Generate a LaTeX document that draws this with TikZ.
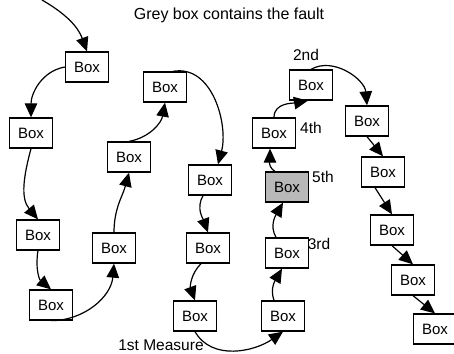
\documentclass[tikz,border=0pt]{standalone}
\usepackage{fontspec}
\setmainfont{Liberation Sans}
\usetikzlibrary{arrows.meta}
\tikzset{>={Triangle[length=14pt,width=12.5pt]}}
\tikzset{
  boxnode/.style={draw,line width=1.3pt,minimum width=43pt,minimum height=30pt,inner sep=0pt,font=\fontsize{15}{18}\selectfont},
  faultbox/.style={boxnode,fill=black!28},
  lbl/.style={inner sep=0pt,font=\fontsize{15.5}{18}\selectfont},
  flow/.style={->,line width=1.2pt}
}

\begin{document}
\begin{tikzpicture}[x=1pt,y=1pt]
        \useasboundingbox (0,0) rectangle (454,353);
        \node[lbl,font=\fontsize{16}{18}\selectfont] (title) at (229,338) {Grey box contains the fault};
        % first sweep, down and up
        \node[boxnode] (b1) at (87,286) {Box};
        \node[boxnode] (b2) at (31,220) {Box};
        \node[boxnode] (b3) at (38,118) {Box};
        \node[boxnode] (b4) at (51,48) {Box};
        \node[boxnode] (b5) at (114,105) {Box};
        \node[boxnode] (b6) at (129,196) {Box};
        \node[boxnode] (b7) at (165,266) {Box};
        \node[boxnode] (b8) at (210,173) {Box};
        \node[boxnode] (b9) at (208,105) {Box};
        \node[boxnode] (b10) at (195,37) {Box};
        % the measured part
        \node[boxnode] (b11) at (283,37) {Box};
        \node[boxnode] (b12) at (287,100) {Box};
        \node[faultbox] (b13) at (287,166) {Box};
        \node[boxnode] (b14) at (274,220) {Box};
        \node[boxnode] (b15) at (311,268) {Box};
        % last run down to the right
        \node[boxnode] (b16) at (367,232) {Box};
        \node[boxnode] (b17) at (383,181) {Box};
        \node[boxnode] (b18) at (392,123) {Box};
        \node[boxnode] (b19) at (413,73) {Box};
        \node[boxnode] (b20) at (435,24) {Box};
        \node[lbl,anchor=base] (first) at (161,3) {1st Measure};
        \node[lbl] (second) at (306,298) {2nd};
        \node[lbl] (third) at (319,109) {3rd};
        \node[lbl] (fourth) at (311,225) {4th};
        \node[lbl] (fifth) at (323,176) {5th};
        \coordinate (start) at (42,353);
        \draw[flow] (start) to[out=-30,in=110] (b1.north);
        \draw[flow] (b1.west) to[out=190,in=90] (b2.north);
        \draw[flow] (b2.south) to[out=-105,in=130] (b3.north);
        \draw[flow] (b3.south) to[out=-100,in=140] (b4.north);
        \draw[flow] (b4.south) to[out=0,in=-95] (b5.south);
        \draw[flow] (b5.north) to[out=90,in=-105] (b6.south);
        \draw[flow] (b6.north) to[out=10,in=-100] (b7.south);
        \draw[flow] ([xshift=8pt]b7.north) to[out=10,in=75] ([xshift=8pt]b8.north);
        \draw[flow] ([xshift=-7pt]b8.south) to[out=-120,in=110] (b9.north);
        \draw[flow] ([xshift=-7pt]b9.south) to[out=-135,in=110] (b10.north);
        \draw[flow] (b10.south) to[out=-60,in=-145] (b11.south);
        \draw[flow] ([xshift=-9pt]b11.north) to[out=110,in=-120] ([xshift=-5pt]b12.south);
        \draw[flow] ([xshift=-11pt]b12.north) to[out=120,in=-120] ([xshift=-4pt]b13.south);
        \draw[flow] ([xshift=-12pt]b13.north) to[out=150,in=-90] ([xshift=-4pt]b14.south);
        \draw[flow] (b14.north) to[out=90,in=190] ([xshift=-3pt]b15.south);
        \draw[flow] (b15.north) to[out=30,in=95] (b16.north);
        \draw[flow] (b16.south) -- (b17.north);
        \draw[flow] ([xshift=-8pt]b17.south) -- (b18.north);
        \draw[flow] (b18.south) -- (b19.north);
        \draw[flow] (b19.south) -- (b20.north);
      \end{tikzpicture}
\end{document}
